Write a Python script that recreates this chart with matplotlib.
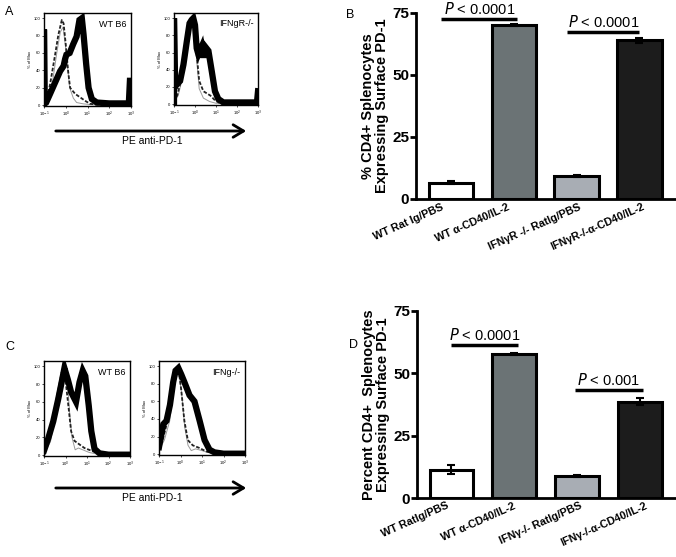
import numpy as np
import matplotlib
matplotlib.use('Agg')
import matplotlib.pyplot as plt

plt.rcParams['font.family'] = ['Liberation Sans', 'DejaVu Sans']

W, H = 676, 557

# ---- flow histograms: (log10 PE intensity, % of max) ----
# A, WT B6
a1_thick_x = [-1.0, -1.0, -0.97, -0.9, -0.72, -0.49, -0.26, -0.1, -0.03, 0.03, 0.18, 0.34, 0.5, 0.63, 0.74, 0.82, 0.94, 1.05, 1.2, 1.43, 2.0, 2.9, 2.95, 3.0]
a1_thick_y = [0, 87, 2, 3, 13, 26, 39, 45, 53, 58, 60, 70, 79, 98, 100, 81, 47, 20, 7, 3, 2, 2, 28, 28]
a1_dash_x = [-1.0, -0.85, -0.72, -0.49, -0.34, -0.18, -0.1, 0.0, 0.11, 0.2, 0.43, 0.66, 0.89, 1.12, 1.5, 3.0]
a1_dash_y = [3, 10, 24, 58, 81, 98, 94, 70, 39, 20, 13, 9, 5, 1.5, 0.5, 0.5]
a1_gray_x = [-1.0, -0.8, -0.6, -0.4, -0.25, -0.12, 0.0, 0.18, 0.35, 0.5, 0.8, 1.2, 3.0]
a1_gray_y = [2, 8, 28, 62, 84, 90, 65, 20, 8, 3, 1.5, 0.5, 0.5]

# A, IFNgR-/-
a2_thick_x = [-1.0, -1.0, -0.95, -0.87, -0.71, -0.55, -0.39, -0.26, -0.16, -0.08, 0.0, 0.08, 0.16, 0.32, 0.4, 0.48, 0.64, 0.8, 0.95, 1.11, 1.35, 2.0, 2.95, 3.0]
a2_thick_y = [0, 100, 20, 23, 27, 46, 73, 94, 98, 100, 92, 65, 58, 67, 54, 67, 62, 38, 15, 6, 2, 2, 2, 15]
a2_dash_x = [-1.0, -0.85, -0.71, -0.47, -0.26, -0.16, -0.04, 0.08, 0.2, 0.4, 0.73, 0.97, 1.2, 3.0]
a2_dash_y = [3, 10, 23, 65, 92, 98, 88, 58, 27, 15, 10, 4, 1, 0.5]
a2_gray_x = [-1.0, -0.8, -0.6, -0.4, -0.22, -0.1, 0.05, 0.2, 0.4, 0.7, 1.0, 3.0]
a2_gray_y = [2, 10, 30, 70, 92, 95, 60, 18, 7, 3, 1, 0.5]

# C, WT B6
c1_thick_x = [-1.0, -0.8, -0.57, -0.34, -0.18, -0.05, 0.11, 0.26, 0.49, 0.65, 0.8, 0.92, 1.08, 1.2, 1.35, 1.58, 2.0, 3.0]
c1_thick_y = [5, 19, 38, 63, 82, 98, 85, 71, 60, 82, 95, 89, 56, 27, 7, 2, 0.5, 0.5]
c1_dash_x = [-1.0, -0.72, -0.42, -0.18, -0.03, 0.03, 0.15, 0.26, 0.42, 0.65, 0.88, 1.2, 1.5, 3.0]
c1_dash_y = [3, 19, 63, 93, 96, 78, 52, 27, 16, 12, 8, 5, 2, 1]
c1_gray_x = [-1.0, -0.7, -0.4, -0.15, 0.0, 0.1, 0.2, 0.3, 0.45, 0.6, 0.8, 1.1, 1.5, 3.0]
c1_gray_y = [2, 15, 55, 88, 100, 80, 45, 20, 6, 8, 6, 3, 1, 0.5]

# C, IFNg-/-
c2_thick_x = [-1.0, -0.8, -0.65, -0.49, -0.34, -0.23, -0.1, 0.03, 0.18, 0.42, 0.65, 0.89, 1.12, 1.35, 1.58, 2.0, 3.0]
c2_thick_y = [8, 34, 38, 56, 82, 95, 98, 91, 82, 67, 60, 38, 16, 5, 2, 0.5, 0.5]
c2_dash_x = [-1.0, -0.8, -0.57, -0.34, -0.1, 0.03, 0.18, 0.34, 0.57, 0.88, 1.2, 1.6, 3.0]
c2_dash_y = [5, 19, 41, 82, 98, 74, 38, 16, 10, 7, 3, 1, 0.5]
c2_gray_x = [-1.0, -0.75, -0.5, -0.3, -0.1, 0.05, 0.2, 0.35, 0.5, 0.7, 1.0, 1.4, 3.0]
c2_gray_y = [4, 16, 38, 78, 95, 70, 30, 10, 4, 6, 4, 1, 0.5]

# ---- bar charts ----
b_labels = ['WT Rat Ig/PBS', 'WT \u03b1-CD40/IL-2', 'IFN\u03b3R -/- RatIg/PBS', 'IFN\u03b3R-/-\u03b1-CD40/IL-2']
b_values = [6.5, 70.0, 9.3, 64.0]
b_errors = [0.6, 0.4, 0.5, 0.9]
d_labels = ['WT RatIg/PBS', 'WT \u03b1-CD40/IL-2', 'IFN\u03b3-/- RatIg/PBS', 'IFN\u03b3-/-\u03b1-CD40/IL-2']
d_values = [11.3, 57.8, 8.9, 38.7]
d_errors = [1.8, 0.4, 0.4, 1.6]
bar_colors = ['white', '#6b7375', '#a8adb4', '#1c1c1c']


def px_axes(fig, l, t, r, b):
    return fig.add_axes([l / W, 1 - b / H, (r - l) / W, (b - t) / H])


def flow(ax, series, title):
    (tx, ty), (dx, dy), (gx, gy) = series
    ax.plot(10.0 ** np.array(gx), gy, color='#9a9a9a', lw=0.7)
    ax.plot(10.0 ** np.array(dx), dy, color='#222222', lw=1.3, ls=(0, (2, 1)))
    ax.plot(10.0 ** np.array(tx), ty, color='black', lw=4.5, solid_joinstyle='miter')
    ax.set_xscale('log')
    ax.set_xlim(0.1, 1000)
    ax.set_ylim(-1, 106)
    ax.set_xticks([0.1, 1, 10, 100, 1000])
    ax.set_xticklabels(['10$^{-1}$', '10$^{0}$', '10$^{1}$', '10$^{2}$', '10$^{3}$'])
    ax.xaxis.set_minor_locator(matplotlib.ticker.NullLocator())
    ax.set_yticks([0, 20, 40, 60, 80, 100])
    ax.tick_params(labelsize=3, length=1.5, width=0.5, pad=1)
    ax.set_ylabel('% of Max', fontsize=3, labelpad=1)
    for s in ax.spines.values():
        s.set_linewidth(1.0)
    ax.text(0.95, 0.93, title, transform=ax.transAxes, ha='right', va='top', fontsize=6.5)


def bars(ax, labels, values, errors, ylabel, pvals, lab_dx):
    x = np.arange(len(values))
    ax.bar(x, values, width=0.7, color=bar_colors, edgecolor='black', linewidth=2.2,
           yerr=errors, error_kw=dict(ecolor='black', elinewidth=1.5, capsize=3, capthick=1.5))
    ax.set_xlim(-0.55, 3.58)
    ax.set_ylim(0, 75)
    ax.set_yticks([0, 25, 50, 75])
    ax.set_xticks(x)
    ax.set_xticklabels([])
    # slanted category labels, box centred a bit left of each bar
    for xi, lab in zip(x, labels):
        ax.annotate(lab, xy=(xi, 0), xycoords=('data', 'axes fraction'),
                    xytext=(lab_dx, -2), textcoords='offset points',
                    rotation=24, ha='center', va='top',
                    fontsize=7.8, fontweight='bold', annotation_clip=False)
    ax.tick_params(axis='x', length=0)
    ax.tick_params(axis='y', length=4, width=2, labelsize=11, pad=1)
    for t in ax.get_yticklabels():
        t.set_fontweight('bold')
    ax.spines['top'].set_visible(False)
    ax.spines['right'].set_visible(False)
    ax.spines['left'].set_linewidth(2)
    ax.spines['bottom'].set_linewidth(2)
    ax.set_ylabel(ylabel, fontsize=10.5, fontweight='bold', labelpad=2, linespacing=1.0)
    for (x0, x1, y, txt) in pvals:
        ax.plot([x0, x1], [y, y], color='black', lw=2.5, solid_capstyle='butt', clip_on=False)
        ax.text((x0 + x1) / 2, y + 0.8, txt, ha='center', va='bottom', fontsize=10.5)


fig = plt.figure(figsize=(W / 100, H / 100), dpi=100)

flow(px_axes(fig, 44, 13, 131, 106), [(a1_thick_x, a1_thick_y), (a1_dash_x, a1_dash_y), (a1_gray_x, a1_gray_y)], 'WT B6')
flow(px_axes(fig, 174, 13, 258, 105), [(a2_thick_x, a2_thick_y), (a2_dash_x, a2_dash_y), (a2_gray_x, a2_gray_y)], 'IFNgR-/-')
flow(px_axes(fig, 44, 361, 130, 456), [(c1_thick_x, c1_thick_y), (c1_dash_x, c1_dash_y), (c1_gray_x, c1_gray_y)], 'WT B6')
flow(px_axes(fig, 159, 361, 245, 455), [(c2_thick_x, c2_thick_y), (c2_dash_x, c2_dash_y), (c2_gray_x, c2_gray_y)], 'IFNg-/-')

for yarrow, ytext in [(131, 141), (488, 498)]:
    fig.add_artist(matplotlib.patches.FancyArrowPatch(
        (53 / W, 1 - yarrow / H), (249 / W, 1 - yarrow / H), transform=fig.transFigure,
        arrowstyle='->,head_length=5,head_width=3', lw=2, color='black', mutation_scale=1.5))
    fig.text(152 / W, 1 - ytext / H, 'PE anti-PD-1', ha='center', va='center', fontsize=7.5)

ax_b = px_axes(fig, 416, 13, 676, 199)
bars(ax_b, b_labels, b_values, b_errors, '% CD4+ Splenocytes\nExpressing Surface PD-1',
     [(-0.15, 1.06, 72.5, '$P$ < 0.0001'), (1.85, 3.0, 67.5, '$P$ < 0.0001')], -30)
ax_d = px_axes(fig, 417, 311, 676, 498)
bars(ax_d, d_labels, d_values, d_errors, 'Percent CD4+  Splenocytes\nExpressing Surface PD-1',
     [(0.0, 1.06, 61.3, '$P$ < 0.0001'), (1.97, 3.05, 43.3, '$P$ < 0.001')], -26)

fig.text(5 / W, 1 - 12 / H, 'A', fontsize=9, va='center')
fig.text(346 / W, 1 - 15 / H, 'B', fontsize=9, va='center')
fig.text(5 / W, 1 - 347 / H, 'C', fontsize=9, va='center')
fig.text(349 / W, 1 - 345 / H, 'D', fontsize=9, va='center')

fig.savefig('out.png', dpi=100)
